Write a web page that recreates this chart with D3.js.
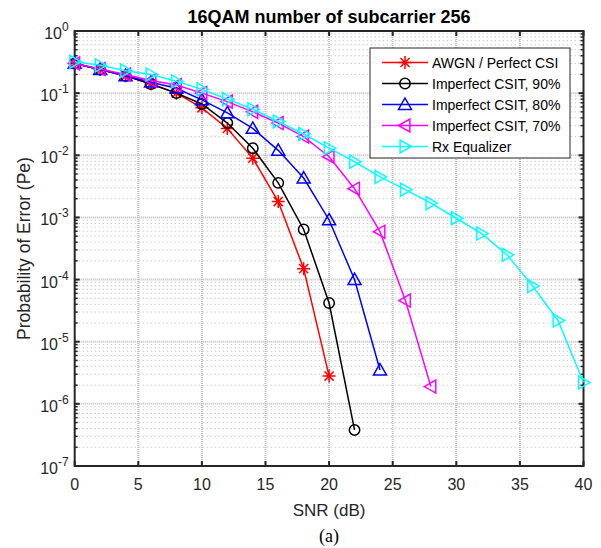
<!DOCTYPE html>
<html>
<head>
<meta charset="utf-8">
<script src="https://cdn.jsdelivr.net/npm/d3@7"></script>
<style>
  body { margin: 0; background: #fff; }
  text { font-family: Arial, "Liberation Sans", sans-serif; }
</style>
</head>
<body>
<div id="chart"></div>
<script>
// SNR values (dB) for each curve
var snrAwgn = [0, 2, 4, 6, 8, 10, 12, 14, 16, 18, 20];
var snr90   = [0, 2, 4, 6, 8, 10, 12, 14, 16, 18, 20, 22];
var snr80   = [0, 2, 4, 6, 8, 10, 12, 14, 16, 18, 20, 22, 24];
var snr70   = [0, 2, 4, 6, 8, 10, 12, 14, 16, 18, 20, 22, 24, 26, 28];
var snrRx   = [0, 2, 4, 6, 8, 10, 12, 14, 16, 18, 20, 22, 24, 26, 28, 30, 32, 34, 36, 38, 40];

// probability of error
var peAwgn = [0.30, 0.24, 0.19, 0.14, 0.10, 0.058, 0.027, 0.009, 0.0018, 0.00015, 2.8e-6];
var pe90   = [0.30, 0.24, 0.19, 0.14, 0.10, 0.067, 0.033, 0.013, 0.0036, 0.00064, 4.2e-5, 3.8e-7];
var pe80   = [0.30, 0.24, 0.19, 0.15, 0.12, 0.078, 0.048, 0.027, 0.012, 0.0043, 0.00091, 1.0e-4, 3.5e-6];
var pe70   = [0.30, 0.245, 0.20, 0.16, 0.135, 0.10, 0.073, 0.05, 0.033, 0.02, 0.0095, 0.0029, 0.00059, 4.6e-5, 1.9e-6];
var peRx   = [0.32, 0.28, 0.23, 0.20, 0.155, 0.115, 0.08, 0.055, 0.035, 0.022, 0.013, 0.0079, 0.0045,
              0.0028, 0.0017, 0.00097, 0.00055, 0.00025, 7.9e-5, 2.2e-5, 2.2e-6];

var seriesNames = ["AWGN / Perfect CSI", "Imperfect CSIT, 90%", "Imperfect CSIT, 80%",
                   "Imperfect CSIT, 70%", "Rx Equalizer"];
var seriesColors = ["#ff0000", "#000000", "#0000ff", "#ff00ff", "#00ffff"];
var seriesMarkers = ["star", "circle", "up", "left", "right"];

var xTicks = [0, 5, 10, 15, 20, 25, 30, 35, 40];
var yExponents = [0, -1, -2, -3, -4, -5, -6, -7];

var series = [
    {x: snrAwgn, y: peAwgn},
    {x: snr90,   y: pe90},
    {x: snr80,   y: pe80},
    {x: snr70,   y: pe70},
    {x: snrRx,   y: peRx}
];

var width = 601, height = 548;
var margin = {left: 74.7, right: 601 - 583.5, top: 31, bottom: 548 - 466};

var svg = d3.select("#chart").append("svg")
    .attr("width", width)
    .attr("height", height);

var x = d3.scaleLinear().domain([0, 40]).range([margin.left, width - margin.right]);
var y = d3.scaleLog().domain([1e-7, 1]).range([height - margin.bottom, margin.top]);

var plotL = x.range()[0], plotR = x.range()[1];
var plotT = y.range()[1], plotB = y.range()[0];

// minor grid (horizontal, log decades)
var minorVals = [];
for (var e = -7; e < 0; e++) {
    for (var m = 2; m <= 9; m++) minorVals.push(m * Math.pow(10, e));
}
svg.append("g").selectAll("line").data(minorVals).enter().append("line")
    .attr("x1", plotL).attr("x2", plotR)
    .attr("y1", function(d) { return y(d); })
    .attr("y2", function(d) { return y(d); })
    .attr("stroke", "#b4b4b4")
    .attr("stroke-width", 1)
    .attr("stroke-dasharray", "1,3");

// major grid
svg.append("g").selectAll("line").data(yExponents.slice(1, -1)).enter().append("line")
    .attr("x1", plotL).attr("x2", plotR)
    .attr("y1", function(d) { return y(Math.pow(10, d)); })
    .attr("y2", function(d) { return y(Math.pow(10, d)); })
    .attr("stroke", "#bcbcbc")
    .attr("stroke-width", 2)
    .attr("stroke-dasharray", "1,1");
svg.append("g").selectAll("line").data(xTicks.slice(1, -1)).enter().append("line")
    .attr("y1", plotT).attr("y2", plotB)
    .attr("x1", function(d) { return x(d); })
    .attr("x2", function(d) { return x(d); })
    .attr("stroke", "#bcbcbc")
    .attr("stroke-width", 2)
    .attr("stroke-dasharray", "1,1");

// ticks (inward, on all four sides)
var tk = svg.append("g").attr("stroke", "#262626");
xTicks.forEach(function(d) {
    tk.append("line").attr("x1", x(d)).attr("x2", x(d)).attr("y1", plotB).attr("y2", plotB - 5).attr("stroke-width", 2);
    tk.append("line").attr("x1", x(d)).attr("x2", x(d)).attr("y1", plotT).attr("y2", plotT + 5).attr("stroke-width", 2);
});
yExponents.forEach(function(d) {
    var yy = y(Math.pow(10, d));
    tk.append("line").attr("x1", plotL).attr("x2", plotL + 5).attr("y1", yy).attr("y2", yy).attr("stroke-width", 2);
    tk.append("line").attr("x1", plotR).attr("x2", plotR - 5).attr("y1", yy).attr("y2", yy).attr("stroke-width", 2);
});
minorVals.forEach(function(d) {
    tk.append("line").attr("x1", plotL).attr("x2", plotL + 3).attr("y1", y(d)).attr("y2", y(d)).attr("stroke-width", 1.5);
    tk.append("line").attr("x1", plotR).attr("x2", plotR - 3).attr("y1", y(d)).attr("y2", y(d)).attr("stroke-width", 1.5);
});

// axis box
svg.append("rect")
    .attr("x", plotL).attr("y", plotT)
    .attr("width", plotR - plotL).attr("height", plotB - plotT)
    .attr("fill", "none").attr("stroke", "#262626").attr("stroke-width", 2);

// tick labels
svg.append("g").selectAll("text").data(xTicks).enter().append("text")
    .attr("x", function(d) { return x(d); })
    .attr("y", plotB + 24)
    .attr("text-anchor", "middle")
    .attr("font-size", 16)
    .attr("fill", "#262626")
    .text(function(d) { return d; });

var yl = svg.append("g").selectAll("text").data(yExponents).enter().append("text")
    .attr("x", plotL - 6)
    .attr("y", function(d) { return y(Math.pow(10, d)) + 8; })
    .attr("text-anchor", "end")
    .attr("font-size", 16)
    .attr("fill", "#262626");
yl.append("tspan").text("10");
yl.append("tspan").attr("dy", -8).attr("font-size", 12).text(function(d) { return d; });

// labels and title
svg.append("text")
    .attr("x", (plotL + plotR) / 2).attr("y", 23)
    .attr("text-anchor", "middle")
    .attr("font-size", 18).attr("font-weight", "bold")
    .attr("fill", "#000")
    .text("16QAM number of subcarrier 256");

svg.append("text")
    .attr("x", (plotL + plotR) / 2).attr("y", plotB + 50)
    .attr("text-anchor", "middle")
    .attr("font-size", 17)
    .attr("fill", "#262626")
    .text("SNR (dB)");

svg.append("text")
    .attr("x", (plotL + plotR) / 2).attr("y", plotB + 76)
    .attr("text-anchor", "middle")
    .attr("font-size", 18)
    .style("font-family", "'Liberation Serif', 'Times New Roman', serif")
    .attr("fill", "#000")
    .text("(a)");

svg.append("text")
    .attr("transform", "translate(30," + ((plotT + plotB) / 2) + ") rotate(-90)")
    .attr("text-anchor", "middle")
    .attr("font-size", 17.5)
    .attr("fill", "#262626")
    .text("Probability of Error (Pe)");

// marker drawing
function drawMarker(g, type, cx, cy, color) {
    var s = 6.5;
    if (type === "circle") {
        g.append("circle").attr("cx", cx).attr("cy", cy).attr("r", 5.2)
            .attr("fill", "none").attr("stroke", color).attr("stroke-width", 1.5);
    } else if (type === "star") {
        var p = "M" + (cx - s) + "," + cy + "L" + (cx + s) + "," + cy +
                "M" + cx + "," + (cy - s) + "L" + cx + "," + (cy + s) +
                "M" + (cx - s * 0.7) + "," + (cy - s * 0.7) + "L" + (cx + s * 0.7) + "," + (cy + s * 0.7) +
                "M" + (cx - s * 0.7) + "," + (cy + s * 0.7) + "L" + (cx + s * 0.7) + "," + (cy - s * 0.7);
        g.append("path").attr("d", p).attr("stroke", color).attr("stroke-width", 1.5).attr("fill", "none");
    } else {
        var pts;
        if (type === "up") pts = [[cx, cy - s], [cx + s, cy + s * 0.75], [cx - s, cy + s * 0.75]];
        else if (type === "left") pts = [[cx - s, cy], [cx + s * 0.75, cy - s], [cx + s * 0.75, cy + s]];
        else pts = [[cx + s, cy], [cx - s * 0.75, cy - s], [cx - s * 0.75, cy + s]];
        g.append("polygon").attr("points", pts.map(function(p) { return p.join(","); }).join(" "))
            .attr("fill", "none").attr("stroke", color).attr("stroke-width", 1.5);
    }
}

// curves
var line = d3.line()
    .x(function(d) { return x(d[0]); })
    .y(function(d) { return y(d[1]); });

series.forEach(function(s, i) {
    var pts = d3.zip(s.x, s.y);
    var g = svg.append("g");
    g.append("path").datum(pts)
        .attr("d", line)
        .attr("fill", "none")
        .attr("stroke", seriesColors[i])
        .attr("stroke-width", 1.5);
    pts.forEach(function(p) {
        drawMarker(g, seriesMarkers[i], x(p[0]), y(p[1]), seriesColors[i]);
    });
});

// legend
var lg = svg.append("g");
var lgX = 370, lgY = 48, lgW = 200, lgH = 110;
lg.append("rect").attr("x", lgX).attr("y", lgY).attr("width", lgW).attr("height", lgH)
    .attr("fill", "#fff").attr("stroke", "#262626").attr("stroke-width", 1);
seriesNames.forEach(function(name, i) {
    var ly = lgY + 14.5 + i * 21;
    lg.append("line").attr("x1", lgX + 12).attr("x2", lgX + 58).attr("y1", ly).attr("y2", ly)
        .attr("stroke", seriesColors[i]).attr("stroke-width", 1.5);
    drawMarker(lg, seriesMarkers[i], lgX + 35, ly, seriesColors[i]);
    lg.append("text").attr("x", lgX + 62).attr("y", ly + 5)
        .attr("font-size", 14).attr("fill", "#000").text(name);
});
</script>
</body>
</html>
